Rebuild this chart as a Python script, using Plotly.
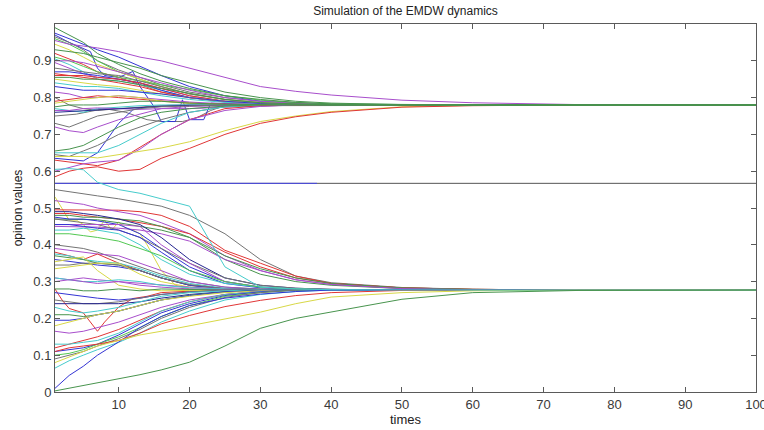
import plotly.graph_objects as go

# shared time samples
T = [1, 3, 5, 7, 10, 13, 16, 20, 25, 30, 35, 40, 50, 60, 75, 100]
UPPER_END = 0.780
LOWER_END = 0.277
MID_LEVEL = 0.567

COL = {
    "b": "#3434d4", "g": "#48944e", "r": "#e03636", "c": "#46cccc",
    "m": "#a84ecc", "y": "#d8d846", "k": "#747474", "l": "#52c852", "n": "#262690",
}

# upper lines with their own sample times (jumpy paths)
blue_riser_t = [1, 3, 5, 7, 10, 12, 14, 17, 25, 100]
blue_riser_v = [0.635, 0.632, 0.628, 0.65, 0.73, 0.767, 0.775, 0.779, 0.78, 0.78]
blue_zig_t = [1, 3, 6, 7, 8, 10, 12, 13, 15, 16, 18, 19, 20, 22, 23, 30, 100]
blue_zig_v = [0.97, 0.95, 0.925, 0.88, 0.86, 0.855, 0.871, 0.83, 0.775, 0.735, 0.735, 0.794, 0.74, 0.74, 0.785, 0.781, 0.78]
gray_zig_t = [1, 4, 8, 11, 14, 16, 19, 21, 23, 25, 100]
gray_zig_v = [0.75, 0.755, 0.77, 0.76, 0.74, 0.735, 0.735, 0.745, 0.765, 0.778, 0.78]

# upper cluster (values at T, then stay at UPPER_END)
upper = [
    ("k", [0.965, 0.95, 0.93, 0.9, 0.875, 0.855, 0.835, 0.815, 0.8, 0.79, 0.785, 0.782]),
    ("b", [0.975, 0.96, 0.945, 0.93, 0.91, 0.885, 0.86, 0.83, 0.805, 0.79, 0.784, 0.781]),
    ("l", [0.96, 0.945, 0.925, 0.9, 0.87, 0.85, 0.83, 0.81, 0.795, 0.787, 0.783, 0.781]),
    ("y", [0.945, 0.93, 0.91, 0.89, 0.87, 0.85, 0.83, 0.81, 0.795, 0.787, 0.783, 0.781]),
    ("r", [0.92, 0.905, 0.89, 0.87, 0.855, 0.835, 0.815, 0.8, 0.79, 0.784, 0.781]),
    ("l", [0.91, 0.9, 0.885, 0.87, 0.855, 0.845, 0.835, 0.82, 0.805, 0.793, 0.786, 0.782]),
    ("c", [0.905, 0.89, 0.87, 0.85, 0.845, 0.835, 0.82, 0.8, 0.79, 0.784, 0.781]),
    ("m", [0.9, 0.9, 0.895, 0.885, 0.87, 0.855, 0.84, 0.82, 0.8, 0.79, 0.784, 0.781]),
    ("m", [0.895, 0.88, 0.865, 0.855, 0.85, 0.84, 0.825, 0.805, 0.79, 0.784, 0.781]),
    ("b", [0.87, 0.87, 0.865, 0.86, 0.85, 0.84, 0.82, 0.8, 0.788, 0.783]),
    ("r", [0.865, 0.86, 0.855, 0.85, 0.84, 0.83, 0.815, 0.8, 0.789, 0.783]),
    ("r", [0.86, 0.86, 0.86, 0.855, 0.85, 0.84, 0.825, 0.805, 0.79, 0.783, 0.781]),
    ("y", [0.85, 0.845, 0.84, 0.835, 0.83, 0.82, 0.81, 0.8, 0.79, 0.784]),
    ("c", [0.84, 0.835, 0.83, 0.83, 0.825, 0.815, 0.805, 0.795, 0.787, 0.783]),
    ("b", [0.83, 0.825, 0.82, 0.82, 0.82, 0.815, 0.81, 0.8, 0.79, 0.784]),
    ("m", [0.815, 0.81, 0.8, 0.8, 0.805, 0.8, 0.795, 0.788, 0.783, 0.781]),
    ("k", [0.8, 0.78, 0.77, 0.765, 0.77, 0.775, 0.778]),
    ("r", [0.79, 0.795, 0.8, 0.805, 0.8, 0.795, 0.79, 0.785, 0.782]),
    ("y", [0.785, 0.79, 0.795, 0.8, 0.805, 0.8, 0.79, 0.784, 0.781]),
    ("c", [0.77, 0.765, 0.76, 0.77, 0.775, 0.778]),
    ("m", [0.765, 0.765, 0.77, 0.772, 0.77, 0.768, 0.77, 0.77, 0.774, 0.778]),
    ("n", [0.76, 0.762, 0.765, 0.768, 0.77, 0.773, 0.776, 0.779]),
    ("m", [0.72, 0.71, 0.705, 0.72, 0.74, 0.755, 0.77, 0.776, 0.779]),
    ("k", [0.73, 0.72, 0.735, 0.75, 0.76, 0.77, 0.775, 0.778]),
    ("k", [0.645, 0.64, 0.655, 0.67, 0.7, 0.72, 0.74, 0.76, 0.775, 0.779]),
    ("c", [0.65, 0.65, 0.65, 0.65, 0.67, 0.7, 0.73, 0.76, 0.775, 0.779]),
    ("r", [0.63, 0.625, 0.62, 0.615, 0.63, 0.665, 0.7, 0.74, 0.77, 0.778]),
    ("m", [0.6, 0.61, 0.62, 0.625, 0.63, 0.66, 0.7, 0.74, 0.765, 0.776]),
    ("y", [0.64, 0.64, 0.64, 0.636, 0.645, 0.652, 0.663, 0.68, 0.71, 0.735, 0.75, 0.762, 0.775, 0.779]),
    ("r", [0.585, 0.6, 0.608, 0.612, 0.6, 0.605, 0.635, 0.662, 0.7, 0.73, 0.748, 0.76, 0.774, 0.778]),
    ("m", [0.955, 0.945, 0.94, 0.935, 0.925, 0.91, 0.9, 0.88, 0.855, 0.83, 0.817, 0.807, 0.793, 0.786, 0.781]),
    ("k", [0.88, 0.875, 0.87, 0.865, 0.86, 0.845, 0.83, 0.81, 0.795, 0.786, 0.782]),
    ("g", [0.655, 0.66, 0.67, 0.69, 0.72, 0.745, 0.76, 0.77, 0.777]),
    ("g", [0.775, 0.78, 0.78, 0.78, 0.785, 0.79, 0.79, 0.785, 0.782]),
    ("g", [0.855, 0.855, 0.85, 0.85, 0.845, 0.835, 0.825, 0.81, 0.795, 0.786, 0.782]),
    ("g", [0.93, 0.925, 0.92, 0.91, 0.895, 0.88, 0.86, 0.84, 0.815, 0.8, 0.79, 0.785, 0.781]),
    ("g", [0.99, 0.97, 0.95, 0.92, 0.89, 0.865, 0.845, 0.825, 0.805, 0.795, 0.787, 0.783, 0.781]),
]

# lower lines with their own sample times (jumpy paths)
yellow_zig_t = [1, 2, 3, 4, 5, 6, 7, 8, 9, 10, 11, 12, 13, 14, 16, 18, 20, 25, 100]
yellow_zig_v = [0.53, 0.5, 0.467, 0.467, 0.455, 0.435, 0.44, 0.467, 0.44, 0.462, 0.445, 0.44, 0.43, 0.4, 0.33, 0.29, 0.28, 0.277, 0.277]
red_zig_t = [1, 2, 3, 5, 7, 8, 10, 12, 14, 16, 20, 25, 100]
red_zig_v = [0.28, 0.25, 0.227, 0.215, 0.165, 0.19, 0.231, 0.254, 0.26, 0.27, 0.274, 0.277, 0.277]

# lower cluster (values at T, then stay at LOWER_END)
lower = [
    ("k", [0.55, 0.545, 0.54, 0.533, 0.525, 0.515, 0.505, 0.48, 0.43, 0.36, 0.315, 0.297, 0.284, 0.279]),
    ("r", [0.495, 0.495, 0.495, 0.495, 0.494, 0.49, 0.48, 0.45, 0.385, 0.35, 0.315, 0.295, 0.283, 0.279]),
    ("m", [0.52, 0.515, 0.51, 0.5, 0.49, 0.48, 0.46, 0.43, 0.37, 0.33, 0.305, 0.292, 0.282, 0.278]),
    ("r", [0.485, 0.485, 0.48, 0.475, 0.47, 0.46, 0.45, 0.43, 0.38, 0.34, 0.31, 0.295, 0.283, 0.279]),
    ("g", [0.48, 0.48, 0.475, 0.475, 0.47, 0.465, 0.45, 0.42, 0.36, 0.32, 0.3, 0.29, 0.281, 0.278]),
    ("g", [0.47, 0.47, 0.47, 0.468, 0.46, 0.45, 0.44, 0.42, 0.37, 0.335, 0.31, 0.295, 0.283, 0.279]),
    ("m", [0.45, 0.45, 0.45, 0.448, 0.445, 0.44, 0.43, 0.41, 0.36, 0.33, 0.305, 0.292, 0.281, 0.278]),
    ("n", [0.49, 0.49, 0.485, 0.48, 0.47, 0.455, 0.42, 0.36, 0.31, 0.29, 0.282, 0.279]),
    ("b", [0.475, 0.47, 0.47, 0.465, 0.455, 0.43, 0.39, 0.34, 0.3, 0.285, 0.28, 0.278]),
    ("k", [0.47, 0.465, 0.46, 0.455, 0.44, 0.42, 0.39, 0.35, 0.31, 0.29, 0.282, 0.279]),
    ("m", [0.455, 0.455, 0.455, 0.455, 0.455, 0.45, 0.4, 0.35, 0.3, 0.285, 0.28, 0.278]),
    ("b", [0.455, 0.455, 0.45, 0.445, 0.44, 0.42, 0.38, 0.33, 0.295, 0.283, 0.279]),
    ("c", [0.44, 0.44, 0.445, 0.44, 0.43, 0.4, 0.36, 0.32, 0.295, 0.285, 0.28, 0.278]),
    ("l", [0.43, 0.43, 0.425, 0.42, 0.41, 0.39, 0.37, 0.33, 0.3, 0.285, 0.28, 0.278]),
    ("k", [0.4, 0.395, 0.39, 0.38, 0.36, 0.34, 0.32, 0.3, 0.285, 0.28, 0.278]),
    ("m", [0.39, 0.385, 0.38, 0.375, 0.37, 0.35, 0.33, 0.3, 0.285, 0.279]),
    ("r", [0.38, 0.37, 0.36, 0.375, 0.35, 0.33, 0.31, 0.29, 0.28, 0.278]),
    ("c", [0.375, 0.37, 0.36, 0.355, 0.35, 0.335, 0.315, 0.295, 0.282, 0.278]),
    ("g", [0.37, 0.365, 0.36, 0.35, 0.345, 0.33, 0.31, 0.29, 0.28, 0.278]),
    ("b", [0.36, 0.355, 0.35, 0.345, 0.34, 0.33, 0.31, 0.29, 0.28, 0.278]),
    ("k", [0.345, 0.345, 0.35, 0.35, 0.345, 0.33, 0.31, 0.292, 0.281, 0.278]),
    ("y", [0.335, 0.34, 0.345, 0.35, 0.35, 0.32, 0.3, 0.285, 0.279]),
    ("y", [0.354, 0.36, 0.367, 0.33, 0.29, 0.28, 0.275, 0.276]),
    ("m", [0.31, 0.305, 0.31, 0.305, 0.3, 0.295, 0.29, 0.285, 0.28, 0.278]),
    ("c", [0.31, 0.305, 0.3, 0.3, 0.305, 0.3, 0.29, 0.283, 0.279]),
    ("m", [0.3, 0.305, 0.3, 0.295, 0.3, 0.29, 0.285, 0.28, 0.278]),
    ("g", [0.28, 0.28, 0.275, 0.275, 0.28, 0.275, 0.28, 0.278]),
    ("b", [0.27, 0.265, 0.26, 0.255, 0.25, 0.255, 0.265, 0.272, 0.276]),
    ("k", [0.25, 0.245, 0.24, 0.24, 0.245, 0.255, 0.265, 0.272, 0.276]),
    ("n", [0.24, 0.24, 0.24, 0.24, 0.24, 0.245, 0.255, 0.265, 0.273, 0.276]),
    ("c", [0.23, 0.22, 0.215, 0.22, 0.23, 0.245, 0.26, 0.27, 0.275]),
    ("g", [0.21, 0.21, 0.205, 0.21, 0.22, 0.235, 0.25, 0.263, 0.272, 0.276]),
    ("b", [0.195, 0.195, 0.2, 0.21, 0.22, 0.235, 0.25, 0.262, 0.272, 0.276]),
    ("y", [0.18, 0.19, 0.2, 0.21, 0.22, 0.235, 0.25, 0.26, 0.27, 0.275]),
    ("m", [0.165, 0.16, 0.165, 0.175, 0.19, 0.21, 0.23, 0.25, 0.265, 0.273]),
    ("r", [0.12, 0.13, 0.14, 0.15, 0.17, 0.195, 0.22, 0.245, 0.265, 0.273]),
    ("c", [0.13, 0.13, 0.135, 0.14, 0.16, 0.19, 0.22, 0.245, 0.265, 0.273]),
    ("b", [0.11, 0.115, 0.12, 0.13, 0.155, 0.185, 0.215, 0.24, 0.262, 0.272]),
    ("l", [0.1, 0.105, 0.115, 0.13, 0.15, 0.175, 0.205, 0.235, 0.26, 0.27]),
    ("k", [0.09, 0.1, 0.11, 0.125, 0.145, 0.17, 0.2, 0.23, 0.257, 0.27]),
    ("c", [0.065, 0.085, 0.1, 0.115, 0.135, 0.16, 0.19, 0.22, 0.25, 0.265, 0.273]),
    ("b", [0.01, 0.045, 0.07, 0.1, 0.136, 0.175, 0.205, 0.235, 0.255, 0.266, 0.273]),
    ("r", [0.11, 0.12, 0.125, 0.13, 0.14, 0.16, 0.185, 0.208, 0.232, 0.249, 0.262, 0.27, 0.276]),
    ("y", [0.08, 0.095, 0.11, 0.125, 0.14, 0.155, 0.165, 0.18, 0.2, 0.217, 0.24, 0.258, 0.27, 0.275]),
    ("c", [0.605, 0.607, 0.604, 0.57, 0.55, 0.54, 0.525, 0.505, 0.34, 0.285, 0.28, 0.278]),
    ("g", [0.003, 0.01, 0.017, 0.024, 0.036, 0.047, 0.06, 0.081, 0.125, 0.173, 0.2, 0.217, 0.252, 0.27, 0.276]),
]

# flat middle agent
mid_t = [1, 100]
mid_blue_t = [1, 38]

X_TICKS = [10, 20, 30, 40, 50, 60, 70, 80, 90, 100]
Y_TICKS = [0, 0.1, 0.2, 0.3, 0.4, 0.5, 0.6, 0.7, 0.8, 0.9]
Y_TICK_TEXT = ["0", "0.1", "0.2", "0.3", "0.4", "0.5", "0.6", "0.7", "0.8", "0.9"]

fig = go.Figure()


def add(x, y, c):
    fig.add_trace(go.Scatter(x=x, y=y, mode="lines", line=dict(color=COL[c], width=1),
                             hoverinfo="skip", showlegend=False))


def padded(v, end):
    return v + [end] * (len(T) - len(v))


fig.add_trace(go.Scatter(x=mid_t, y=[MID_LEVEL, MID_LEVEL], mode="lines",
                         line=dict(color="#555555", width=1), showlegend=False, hoverinfo="skip"))
fig.add_trace(go.Scatter(x=mid_blue_t, y=[MID_LEVEL, MID_LEVEL], mode="lines",
                         line=dict(color="#4646e6", width=1), showlegend=False, hoverinfo="skip"))

add(gray_zig_t, gray_zig_v, "k")
add(blue_riser_t, blue_riser_v, "b")
add(blue_zig_t, blue_zig_v, "b")
for c, v in upper:
    add(T, padded(v, UPPER_END), c)

add(yellow_zig_t, yellow_zig_v, "y")
add(red_zig_t, red_zig_v, "r")
for c, v in lower:
    add(T, padded(v, LOWER_END), c)

FONT = "Liberation Sans, Arial"
axis_common = dict(
    showline=True, linecolor="#5a5a5a", linewidth=1, mirror="allticks",
    ticks="inside", ticklen=5, tickcolor="#5a5a5a", showgrid=False, zeroline=False,
    automargin=False, ticklabeloverflow="allow",
    tickfont=dict(family=FONT, size=13, color="#3a3a3a"),
)

fig.update_layout(
    width=764, height=430,
    margin=dict(l=55, r=8, t=24, b=38),
    paper_bgcolor="white", plot_bgcolor="white",
    title=dict(text="Simulation of the EMDW dynamics", xref="paper", x=0.5, xanchor="center",
               yref="container", y=0.975, yanchor="middle",
               font=dict(family=FONT, size=12, color="#222222")),
    xaxis=dict(range=[1, 100], tickvals=X_TICKS,
               title=dict(text="times", standoff=2,
                          font=dict(family=FONT, size=13, color="#222222")),
               **axis_common),
    yaxis=dict(range=[0, 1], tickvals=Y_TICKS, ticktext=Y_TICK_TEXT,
               title=dict(text="opinion values", standoff=8,
                          font=dict(family=FONT, size=12, color="#222222")),
               **axis_common),
)

fig.write_html("out.html", config={"displayModeBar": False},
               post_script="document.body.style.margin='0px';document.body.style.overflow='hidden';")
